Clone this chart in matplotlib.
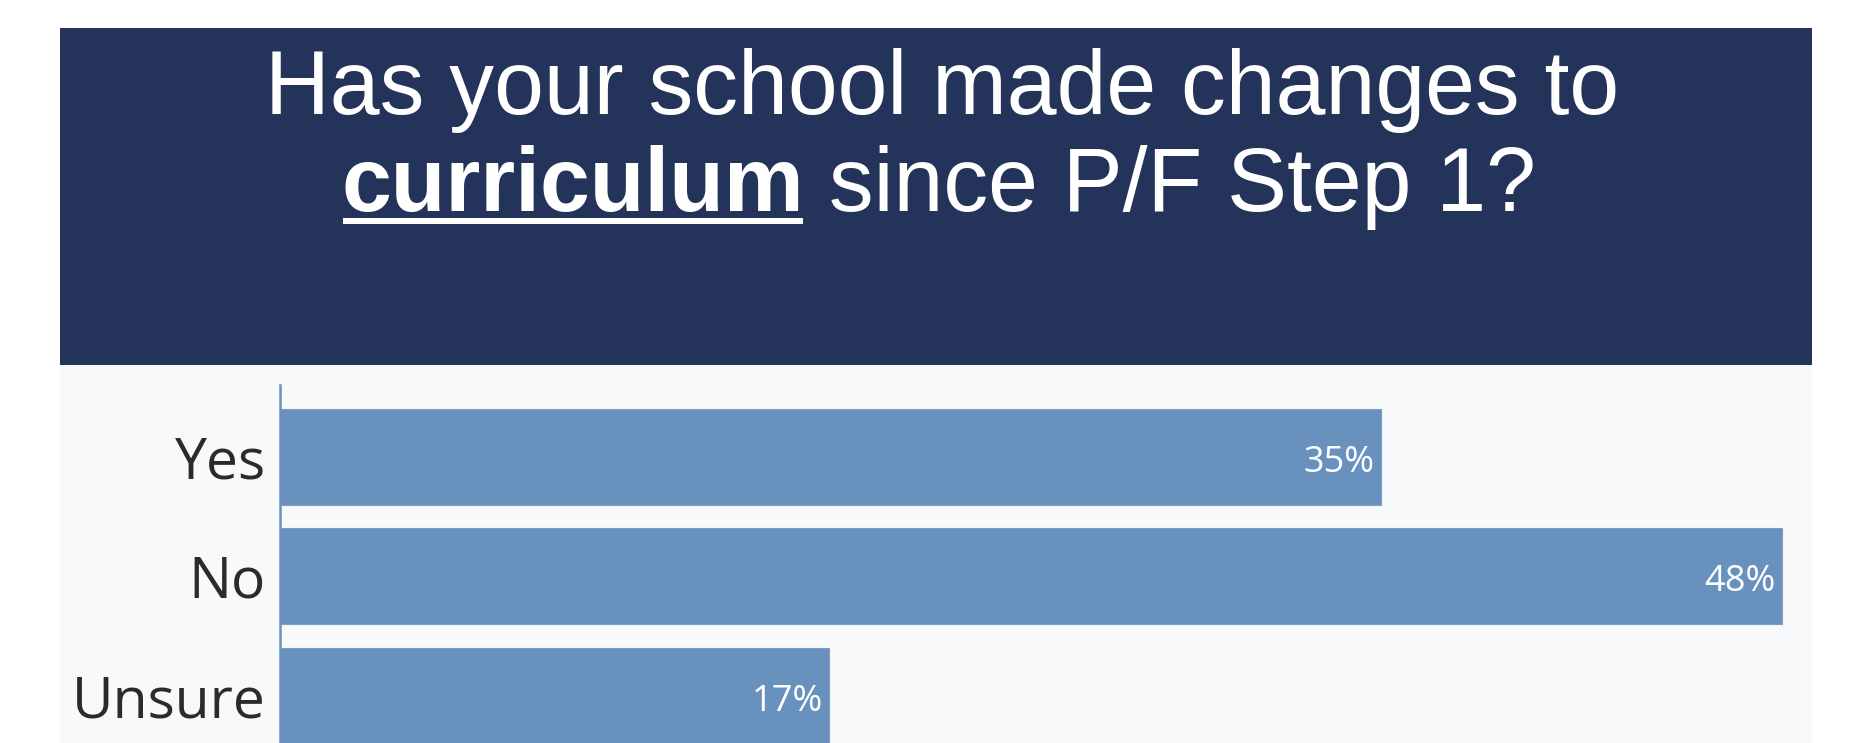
import matplotlib
matplotlib.use("Agg")
import matplotlib.pyplot as plt
from matplotlib.patches import Rectangle
from matplotlib.lines import Line2D

categories = ["Yes", "No", "Unsure"]
values = [34.9, 47.6, 17.4]
title_line1 = "Has your school made changes to"
title_bold = "curriculum"
title_rest = " since P/F Step 1?"

W, H = 1857, 743
DPI = 100
fig = plt.figure(figsize=(W / DPI, H / DPI), dpi=DPI, facecolor="white")

def fx(px):
    return px / W

def fy(py):
    return 1 - py / H

banner_col = "#233359"
panel_col = "#f7f9fb"
bar_col = "#6891be"

# banner and panel backgrounds
fig.patches.append(Rectangle((fx(60), fy(365)), fx(1812) - fx(60), fy(28) - fy(365),
                             transform=fig.transFigure, facecolor=banner_col, edgecolor="none", zorder=-5))
fig.patches.append(Rectangle((fx(60), fy(743)), fx(1812) - fx(60), fy(365) - fy(743),
                             transform=fig.transFigure, facecolor=panel_col, edgecolor="none", zorder=-5))

# title
tfont = dict(family="Liberation Sans", size=64.5, color="white")
fig.text(fx(942), fy(114), title_line1, ha="center", va="baseline", **tfont)

fig.canvas.draw()
r = fig.canvas.get_renderer()
t_b = fig.text(0, fy(211), title_bold, ha="left", va="baseline", fontweight="bold", **tfont)
t_r = fig.text(0, fy(211), title_rest, ha="left", va="baseline", **tfont)
wb = t_b.get_window_extent(r).width
wr = t_r.get_window_extent(r).width
total = wb + wr
x0 = 939 - total / 2
t_b.set_x(fx(x0))
t_r.set_x(fx(x0 + wb))
fig.add_artist(Line2D([fx(x0 + 1), fx(x0 + wb - 1)], [fy(221), fy(221)], transform=fig.transFigure,
                      color="white", linewidth=4.3, solid_capstyle="butt"))

# axes
ax_left, ax_right = 280, 1812
ax_top = 385
pitch = 119.5
ax_bottom = ax_top + 3.2 * pitch
ax = fig.add_axes([fx(ax_left), fy(ax_bottom), fx(ax_right) - fx(ax_left), fy(ax_top) - fy(ax_bottom)])
ax.set_facecolor("none")
ax.set_zorder(2)
pos = list(range(len(categories)))
ax.barh(pos, values, height=0.8, color=bar_col, edgecolor="#7aa0c8", linewidth=0.8, zorder=2)
px_per_unit = 31.55
ax.set_xlim(0, (ax_right - ax_left) / px_per_unit)
ax.set_ylim(2.6, -0.6)
ax.set_yticks(pos)
ax.set_yticklabels(categories, fontsize=41, family="Open Sans", color="#2b2b2b")
ax.tick_params(axis="y", length=0, pad=10)
ax.set_xticks([])
for s in ["top", "right", "bottom"]:
    ax.spines[s].set_visible(False)
ax.spines["left"].set_color(bar_col)
ax.spines["left"].set_linewidth(1.8)

for p, v in zip(pos, values):
    ax.annotate(f"{v:.0f}%", xy=(v, p), xytext=(-4.5, -4.5), textcoords="offset points",
                ha="right", va="center", fontsize=26, family="Open Sans", color="white", zorder=3)

fig.savefig("out.png", dpi=DPI, facecolor="white")
